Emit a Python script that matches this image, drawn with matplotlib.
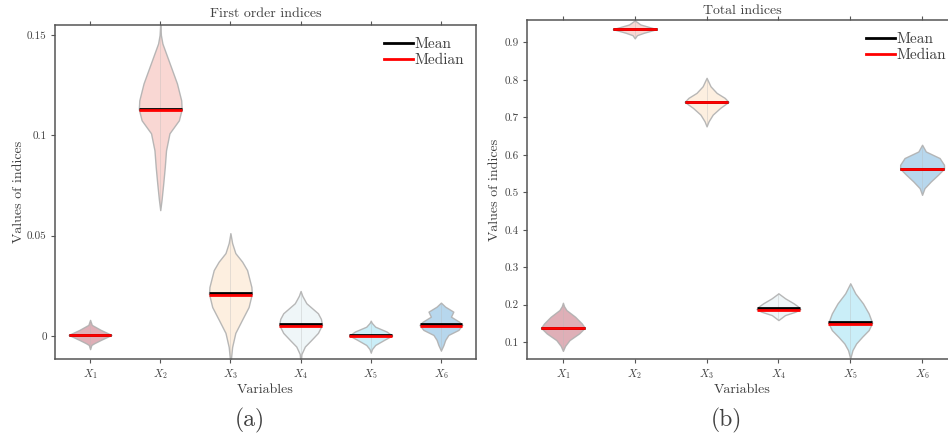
import matplotlib
matplotlib.use("Agg")
import matplotlib.pyplot as plt
from matplotlib.lines import Line2D

plt.rcParams['font.family'] = ['cmr10', 'DejaVu Serif']
plt.rcParams['mathtext.fontset'] = 'cm'
plt.rcParams['axes.unicode_minus'] = False
plt.rcParams['axes.formatter.use_mathtext'] = True

TXT = '#404040'

variables = ['$X_1$', '$X_2$', '$X_3$', '$X_4$', '$X_5$', '$X_6$']
colors = ['#dca7b0', '#f9d3cf', '#fdeedd', '#eef5f8', '#c5edf8', '#b0d3eb']

# ---- First order indices: violin profiles (value, relative half-width) ----
fo_y = [
    [-0.0066, -0.0045, -0.0036, -0.002, 0.0005, 0.003, 0.0055, 0.008],
    [0.0627, 0.0677, 0.076, 0.084, 0.0925, 0.101, 0.1075, 0.113, 0.1174, 0.1259, 0.1338, 0.1458, 0.150, 0.156],
    [-0.014, -0.0055, 0.0015, 0.008, 0.0144, 0.021, 0.0244, 0.0328, 0.037, 0.0413, 0.0463, 0.0512],
    [-0.014, -0.009, -0.0053, -0.002, 0.0015, 0.0055, 0.0085, 0.0113, 0.0163, 0.0200, 0.0224],
    [-0.0083, -0.0065, -0.0045, -0.002, 0.0002, 0.0022, 0.0046, 0.0065, 0.0076],
    [-0.0073, -0.0045, -0.002, 0.0005, 0.003, 0.0055, 0.0071, 0.0096, 0.0121, 0.0146, 0.0166],
]
fo_w = [
    [0, 0.06, 0.2, 0.5, 1.0, 0.5, 0.08, 0],
    [0, 0.06, 0.14, 0.21, 0.27, 0.43, 0.87, 1.0, 0.98, 0.78, 0.51, 0.10, 0.03, 0],
    [0, 0.08, 0.23, 0.54, 0.85, 1.0, 0.98, 0.78, 0.55, 0.23, 0.08, 0],
    [0, 0.04, 0.2, 0.5, 0.81, 1.0, 0.95, 0.81, 0.27, 0.08, 0],
    [0, 0.06, 0.21, 0.62, 1.0, 0.74, 0.21, 0.05, 0],
    [0, 0.12, 0.2, 0.35, 0.82, 1.0, 0.85, 0.47, 0.58, 0.2, 0],
]
fo_mean = [0.0005, 0.1133, 0.0212, 0.0058, 0.0003, 0.0060]
fo_median = [0.0005, 0.1125, 0.0202, 0.0050, 0.0002, 0.0050]

# ---- Total indices ----
to_y = [
    [0.0767, 0.090, 0.1054, 0.1233, 0.1383, 0.150, 0.1677, 0.1856, 0.196, 0.2051],
    [0.911, 0.9195, 0.926, 0.9356, 0.948, 0.9589],
    [0.676, 0.6894, 0.7074, 0.7253, 0.7413, 0.752, 0.7654, 0.783, 0.8056],
    [0.1589, 0.1722, 0.1811, 0.1880, 0.1950, 0.2035, 0.2169, 0.2303],
    [0.0564, 0.0786, 0.0965, 0.1142, 0.1321, 0.1517, 0.1768, 0.2035, 0.2303, 0.257],
    [0.4933, 0.511, 0.529, 0.547, 0.5629, 0.5736, 0.5915, 0.609, 0.627],
]
to_w = [
    [0, 0.1, 0.3, 0.74, 1.0, 0.86, 0.56, 0.16, 0.05, 0],
    [0, 0.1, 0.42, 1.0, 0.26, 0],
    [0, 0.09, 0.28, 0.62, 1.0, 0.83, 0.46, 0.18, 0],
    [0, 0.3, 0.77, 1.0, 0.9, 0.7, 0.31, 0],
    [0, 0.1, 0.27, 0.54, 0.84, 1.0, 0.84, 0.58, 0.23, 0],
    [0, 0.11, 0.4, 0.73, 1.0, 1.0, 0.8, 0.17, 0],
]
to_mean = [0.1383, 0.9356, 0.7413, 0.1910, 0.1543, 0.5629]
to_median = [0.1383, 0.9356, 0.7413, 0.1870, 0.1490, 0.5629]

fo_ticks = [0, 0.05, 0.1, 0.15]
fo_ticklabels = ['0', '0.05', '0.1', '0.15']
to_ticks = [0.1, 0.2, 0.3, 0.4, 0.5, 0.6, 0.7, 0.8, 0.9]
to_ticklabels = ['0.1', '0.2', '0.3', '0.4', '0.5', '0.6', '0.7', '0.8', '0.9']

HW = 0.305

fig = plt.figure(figsize=(9.48, 4.42), dpi=100)
W, H = 948, 442
axL = fig.add_axes([55 / W, 1 - 359 / H, (476 - 55) / W, (359 - 25) / H])
axR = fig.add_axes([527 / W, 1 - 359 / H, 431 / W, (359 - 20) / H])


def draw(ax, ys, ws, means, medians, ylim, ticks, ticklabels, title, title_pad):
    for i, (y, w) in enumerate(zip(ys, ws)):
        pos = i + 1
        left = [pos - v * HW for v in w]
        right = [pos + v * HW for v in w]
        ax.fill_betweenx(y, left, right, facecolor=colors[i], edgecolor='#b0b0b0',
                         linewidth=1.0, alpha=0.9, zorder=2)
        ax.plot([pos, pos], [y[0], y[-1]], color='#b8b8b8', lw=0.5, alpha=0.5, zorder=2.5)
        ax.hlines(means[i], pos - HW, pos + HW, color='black', lw=2.0, zorder=3)
        ax.hlines(medians[i], pos - HW, pos + HW, color='red', lw=2.0, zorder=4)
    ax.set_xlim(0.5, 6.5)
    ax.set_ylim(*ylim)
    ax.set_xticks(range(1, 7))
    ax.set_xticklabels(variables, fontsize=8, color=TXT)
    ax.set_yticks(ticks)
    ax.set_yticklabels(ticklabels, fontsize=8, color=TXT)
    ax.tick_params(direction='out', length=3, width=0.8, color='#555555', top=True, pad=3)
    for s in ax.spines.values():
        s.set_color('#555555')
        s.set_linewidth(1.1)
    ax.set_title(title, fontsize=10, color=TXT, pad=title_pad)
    ax.set_xlabel('Variables', fontsize=10, color=TXT, labelpad=2)
    ax.set_ylabel('Values of indices', fontsize=10, color=TXT)
    handles = [Line2D([], [], color='black', lw=2), Line2D([], [], color='red', lw=2)]
    ax.legend(handles, ['Mean', 'Median'], loc='upper right', frameon=False, fontsize=11,
              handlelength=1.9, handletextpad=0.1, labelspacing=0.15, labelcolor=TXT,
              borderaxespad=0.3, borderpad=0.5)


draw(axL, fo_y, fo_w, fo_mean, fo_median, (-0.0115, 0.155), fo_ticks, fo_ticklabels,
     'First order indices', 6)
draw(axR, to_y, to_w, to_mean, to_median, (0.055, 0.96), to_ticks, to_ticklabels,
     'Total indices', 4)

axL.yaxis.set_label_coords(-0.072, 0.5)
axR.yaxis.set_label_coords(-0.060, 0.5)

fig.text(250 / W, 1 - 420 / H, '(a)', fontsize=17, color=TXT, ha='center', va='center')
fig.text(726 / W, 1 - 420 / H, '(b)', fontsize=17, color=TXT, ha='center', va='center')

fig.savefig('out.png', dpi=100)
